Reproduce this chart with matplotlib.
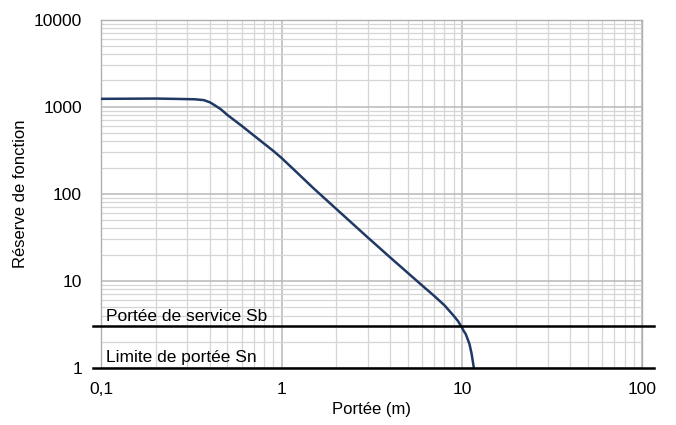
import matplotlib
matplotlib.use("Agg")
import matplotlib.pyplot as plt
from matplotlib.ticker import LogLocator, FixedLocator, FuncFormatter

plt.rcParams['font.family'] = ['Liberation Sans', 'DejaVu Sans']

# excess gain curve
portee = [0.1, 0.2, 0.25, 0.33, 0.37, 0.4, 0.43, 0.46, 0.5, 0.6, 0.7, 0.8, 0.9, 1,
          1.2, 1.5, 2, 3, 4, 5, 6, 7, 8, 9, 9.5, 10, 10.2, 10.5, 11, 11.3, 11.65]
reserve = [1230, 1239, 1230, 1216, 1189, 1122, 1023, 933, 803, 603, 468, 376, 310, 257,
           180, 116, 67.6, 31.6, 18.6, 12.4, 8.9, 6.76, 5.25, 3.98, 3.47, 2.92,
           2.69, 2.45, 1.9, 1.48, 1.0]

seuils = [3, 1]
seuil_labels = ['Portée de service Sb', 'Limite de portée Sn']

x_ticks = [0.1, 1, 10, 100]
x_labels = ['0,1', '1', '10', '100']
y_ticks = [1, 10, 100, 1000, 10000]

fig = plt.figure(figsize=(6.76, 4.25), dpi=100)
ax = fig.add_axes([0.150, 0.134, 0.800, 0.820])

ax.set_xscale('log')
ax.set_yscale('log')
ax.set_xlim(0.1, 100)
ax.set_ylim(1, 10000)

ax.xaxis.set_major_locator(FixedLocator(x_ticks))
ax.xaxis.set_major_formatter(FuncFormatter(lambda v, p: x_labels[x_ticks.index(v)] if v in x_ticks else ''))
ax.yaxis.set_major_locator(FixedLocator(y_ticks))
ax.yaxis.set_major_formatter(FuncFormatter(lambda v, p: f'{v:.0f}'))
ax.xaxis.set_minor_locator(LogLocator(base=10, subs=range(2, 10)))
ax.yaxis.set_minor_locator(LogLocator(base=10, subs=range(2, 10)))
ax.xaxis.set_minor_formatter(FuncFormatter(lambda v, p: ''))
ax.yaxis.set_minor_formatter(FuncFormatter(lambda v, p: ''))

ax.grid(which='major', color='#b8b8b8', linewidth=1.1)
ax.grid(which='minor', color='#d6d6d6', linewidth=0.9)
ax.set_axisbelow(True)
ax.tick_params(which='both', length=0, labelsize=12.5)
ax.tick_params(axis='x', pad=10)
ax.tick_params(axis='y', pad=14)
for s in ax.spines.values():
    s.set_color('#b0b0b0')
    s.set_linewidth(1.0)

ax.plot(portee, reserve, color='#1f3864', linewidth=1.8, zorder=3)

for val, lab in zip(seuils, seuil_labels):
    ax.plot([0.09, 117], [val, val], color='black', linewidth=1.8, clip_on=False, zorder=4)
    ax.text(0.106, val * 1.07, lab, fontsize=12.5, ha='left', va='bottom', zorder=5)

ax.set_xlabel('Portée (m)', fontsize=12)
ax.set_ylabel('Réserve de fonction', fontsize=12, labelpad=4)

fig.savefig('out.png', dpi=100)
